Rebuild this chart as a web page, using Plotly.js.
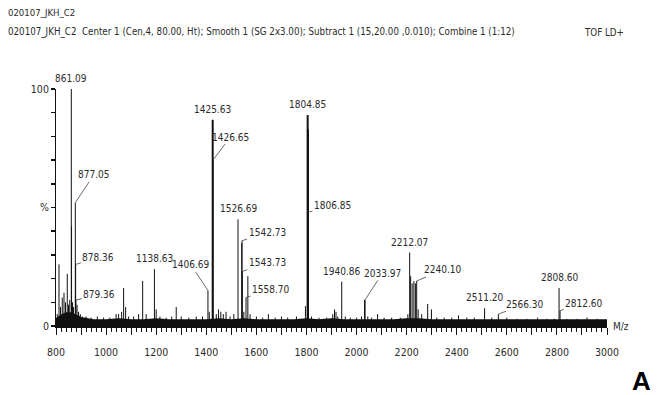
<!DOCTYPE html>
<html>
<head>
<meta charset="utf-8">
<script src="https://cdn.plot.ly/plotly-3.0.1.min.js"></script>
<style>
  html, body { margin: 0; padding: 0; background: #fff; }
  #chart { width: 667px; height: 395px; }
</style>
</head>
<body>
<div id="chart"></div>
<script>
// ---------------- DATA ----------------
const headerLine1 = '020107_JKH_C2';
const headerLine2 = '020107_JKH_C2  Center 1 (Cen,4, 80.00, Ht); Smooth 1 (SG 2x3.00); Subtract 1 (15,20.00 ,0.010); Combine 1 (1:12)';
const headerMode = 'TOF LD+';
const xAxisLabel = 'M/z';
const panelLetter = 'A';

const xTickVals = [800, 900, 1000, 1100, 1200, 1300, 1400, 1500, 1600, 1700, 1800, 1900, 2000, 2100, 2200, 2300, 2400, 2500, 2600, 2700, 2800, 2900, 3000];
const xTickText = ['800', '', '1000', '', '1200', '', '1400', '', '1600', '', '1800', '', '2000', '', '2200', '', '2400', '', '2600', '', '2800', '', '3000'];
const yTickVals = [0, 10, 20, 30, 40, 50, 60, 70, 80, 90, 100];
const yTickText = ['0', '', '', '', '', '%', '', '', '', '', '100'];

// ordinary peaks (m/z, relative intensity %)
const peakMz = [805, 812, 818, 825, 832, 838, 845, 850, 855, 861.09, 862.09, 866, 870, 877.05, 878.36, 879.36, 884, 890, 897,
  905, 920, 940, 965, 990, 1015, 1040, 1050, 1062, 1070, 1078, 1090, 1110, 1130, 1146, 1160, 1193, 1200, 1215, 1240, 1262,
  1280, 1300, 1330, 1360, 1385, 1406.69, 1412, 1426.65, 1440, 1449, 1458, 1468, 1479, 1495, 1510, 1526.69, 1541.7,
  1542.73, 1543.73, 1550, 1558.70, 1566, 1575, 1600, 1625, 1648, 1675, 1700, 1725, 1760, 1796, 1806.85, 1820, 1850,
  1880, 1905, 1912, 1918, 1925, 1940.86, 1955, 1975, 2000, 2020, 2032, 2033.97, 2045, 2060, 2084, 2110, 2140, 2175,
  2205, 2212.07, 2216, 2222, 2229, 2235, 2240.10, 2246, 2260, 2284, 2299, 2320, 2350, 2380, 2407, 2440, 2470, 2511.20,
  2540, 2566.30, 2600, 2640, 2680, 2723, 2760, 2790, 2808.60, 2812.60, 2840, 2880, 2920, 2960];
const peakInt = [5, 26, 8, 12, 14, 10, 22, 9, 11, 100, 42, 10, 8, 52, 26, 11, 9, 6, 5,
  4, 4, 3.5, 4, 3.5, 3.5, 5, 5, 6, 16, 8, 4, 4, 5, 19, 5, 24, 7, 4, 3.5, 4,
  8, 4, 3.5, 4, 4, 15, 6, 70, 5, 7, 6, 5, 6, 4, 5, 45, 35,
  36, 23, 6, 12, 21, 5, 4, 3.5, 5, 3.5, 4, 3.5, 4, 8.4, 48, 4, 3.5,
  3.5, 5, 7, 6, 4, 18.7, 4, 3.5, 3.5, 4, 11, 11, 4, 3.5, 5, 3.5, 3.5, 3.5,
  5, 31, 21, 18, 19, 18, 19, 7, 5, 9.3, 7, 3.5, 3.5, 3.5, 4.5, 3.5, 3.5, 7.5,
  3.5, 5, 3.5, 3, 3, 3.5, 3, 3, 16, 6.5, 3, 3, 3.5, 3];

// strongest peaks (drawn heavier)
const strongMz = [1425.63, 1804.85, 1805.85];
const strongInt = [87, 89, 83];

// baseline noise envelope (m/z, %)
const noiseMz = [800, 820, 840, 860, 880, 900, 950, 1000, 1050, 1100, 1150, 1200, 1250, 1300, 1350, 1400, 1450, 1500,
  1550, 1600, 1650, 1700, 1750, 1800, 1850, 1900, 1950, 2000, 2050, 2100, 2150, 2200, 2250, 2300, 2350, 2400, 2450,
  2500, 2550, 2600, 2650, 2700, 2750, 2800, 2850, 2900, 2950, 3000];
const noiseInt = [3, 4.5, 5.5, 5.5, 4.5, 3.5, 2.5, 2.5, 3, 2.5, 2.5, 3, 2.5, 2.5, 2.5, 2.5, 3, 2.5,
  3, 2.5, 2.5, 2.5, 2.5, 3, 2.5, 3, 2.5, 2.5, 2.5, 2.5, 2.5, 3, 3, 2.5, 2.5, 2.5, 2.5,
  2.5, 2.5, 2.5, 2.5, 2.5, 2.5, 2.5, 2.5, 2.5, 2.5, 2.5];

// labelled peaks: position of the peak and the label text
const labelMz = [861.09, 877.05, 878.36, 879.36, 1193, 1406.69, 1425.63, 1426.65, 1526.69, 1542.73, 1543.73, 1558.70,
  1804.85, 1806.85, 1940.86, 2033.97, 2212.07, 2240.10, 2511.20, 2566.30, 2808.60, 2812.60];
const labelText = ['861.09', '877.05', '878.36', '879.36', '1138.63', '1406.69', '1425.63', '1426.65', '1526.69', '1542.73',
  '1543.73', '1558.70', '1804.85', '1806.85', '1940.86', '2033.97', '2212.07', '2240.10', '2511.20', '2566.30', '2808.60', '2812.60'];

// ---------------- LAYOUT OPTIONS ----------------
// pixel offsets of labels that are joined to their peak by a leader line
const leaderOffsets = {
  '877.05': [18.5, -28], '878.36': [22.7, -6.4], '879.36': [23.5, -5], '1426.65': [17.4, -23],
  '1806.85': [24.3, -6.5], '1542.73': [25, -7.7], '1543.73': [24.8, -8.8], '1558.70': [24.3, -7.6],
  '1406.69': [-17, -25.5], '2033.97': [17.3, -26.6], '2240.10': [25.7, -11], '2566.30': [26, -9.9],
  '2812.60': [23.8, -7.3]
};

const NARROW = '"DejaVu Sans Condensed", "Liberation Sans Narrow", sans-serif';
const INK = '#111';
const TEXT = '#2a2a2a';
const LABEL_SIZE = 10;

function sticks(mz, inten) {
  const xs = [], ys = [];
  mz.forEach((m, i) => { xs.push(m, m, null); ys.push(0, inten[i], null); });
  return { x: xs, y: ys };
}

const allMz = peakMz.concat(strongMz);
const allInt = peakInt.concat(strongInt);
function heightOf(m) {
  const i = allMz.indexOf(m);
  return i >= 0 ? allInt[i] : 0;
}

const s1 = sticks(peakMz, peakInt);
const s2 = sticks(strongMz, strongInt);

const traces = [
  { x: noiseMz, y: noiseInt, type: 'scatter', mode: 'lines', fill: 'tozeroy',
    fillcolor: INK, line: { color: INK, width: 1.5 }, hoverinfo: 'skip', showlegend: false },
  { x: s1.x, y: s1.y, type: 'scatter', mode: 'lines', line: { color: INK, width: 1 },
    hoverinfo: 'skip', showlegend: false, connectgaps: false },
  { x: s2.x, y: s2.y, type: 'scatter', mode: 'lines', line: { color: INK, width: 2 },
    hoverinfo: 'skip', showlegend: false, connectgaps: false }
];

const annotations = [];
labelMz.forEach((m, i) => {
  const t = labelText[i];
  const h = heightOf(m);
  const off = leaderOffsets[t];
  if (off) {
    annotations.push({ x: m, y: h, xref: 'x', yref: 'y', text: t, showarrow: true,
      arrowhead: 0, arrowwidth: 0.8, arrowcolor: '#444', standoff: 0, ax: off[0], ay: off[1],
      font: { family: NARROW, size: LABEL_SIZE, color: TEXT } });
  } else {
    annotations.push({ x: m, y: h, xref: 'x', yref: 'y', text: t, showarrow: false,
      yanchor: 'bottom', yshift: 3, font: { family: NARROW, size: LABEL_SIZE, color: TEXT } });
  }
});

// header / axis texts (paper coordinates relative to plot area)
const W = 551, H = 237, L = 56, T = 89;
function px(xp) { return (xp - L) / W; }
function py(yp) { return (T + H - yp) / H; }
annotations.push(
  { xref: 'paper', yref: 'paper', x: px(6), y: py(13), xanchor: 'left', yanchor: 'middle', showarrow: false,
    text: headerLine1, font: { family: NARROW, size: 9.5, color: TEXT } },
  { xref: 'paper', yref: 'paper', x: px(6), y: py(32), xanchor: 'left', yanchor: 'middle', showarrow: false,
    text: headerLine2, font: { family: NARROW, size: 9.7, color: TEXT } },
  { xref: 'paper', yref: 'paper', x: px(582), y: py(32), xanchor: 'left', yanchor: 'middle', showarrow: false,
    text: headerMode, font: { family: NARROW, size: 9.7, color: TEXT } },
  { xref: 'paper', yref: 'paper', x: px(611), y: py(326), xanchor: 'left', yanchor: 'middle', showarrow: false,
    text: xAxisLabel, font: { family: NARROW, size: 10, color: TEXT } },
  { xref: 'paper', yref: 'paper', x: px(641), y: py(381), xanchor: 'center', yanchor: 'middle', showarrow: false,
    text: '<b>' + panelLetter + '</b>', font: { family: 'Liberation Sans, Arial, sans-serif', size: 26, color: '#000' } }
);

const layout = {
  width: 667, height: 395,
  margin: { l: L, r: 667 - L - W, t: T, b: 395 - T - H, pad: 0 },
  paper_bgcolor: '#fff', plot_bgcolor: '#fff',
  showlegend: false,
  xaxis: {
    range: [800, 3000], showgrid: false, zeroline: false,
    showline: true, linecolor: INK, linewidth: 1.5,
    tickmode: 'array', tickvals: xTickVals, ticktext: xTickText,
    ticks: 'outside', ticklen: 7, tickwidth: 1, tickcolor: INK,
    minor: { dtick: 20, tick0: 800, ticks: 'outside', ticklen: 4, tickwidth: 1, tickcolor: INK, showgrid: false },
    ticklabelstandoff: 9,
    tickfont: { family: NARROW, size: 10.5, color: TEXT }
  },
  yaxis: {
    range: [0, 100], showgrid: false, zeroline: false,
    showline: true, linecolor: INK, linewidth: 1,
    tickmode: 'array', tickvals: yTickVals, ticktext: yTickText,
    ticks: 'outside', ticklen: 4, tickwidth: 1.5, tickcolor: INK,
    tickfont: { family: NARROW, size: 10.5, color: TEXT }
  },
  annotations: annotations
};

Plotly.newPlot('chart', traces, layout, { displayModeBar: false, staticPlot: true });
</script>
</body>
</html>
